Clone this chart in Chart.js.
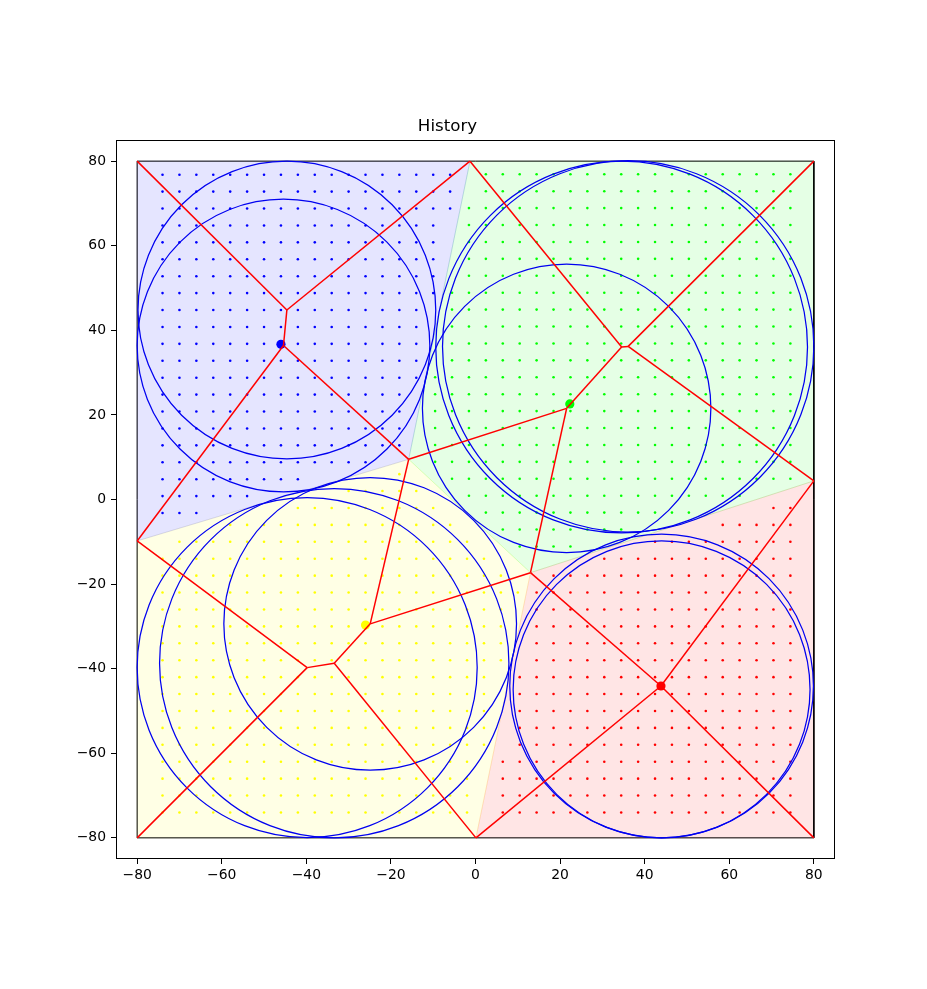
<!DOCTYPE html>
<html>
<head>
<meta charset="utf-8">
<title>History</title>
<script src="https://cdn.jsdelivr.net/npm/chart.js@4.4.1/dist/chart.umd.min.js"></script>
<style>
  html, body { margin: 0; padding: 0; background: #fff; }
  canvas { display: block; }
</style>
</head>
<body>
<canvas id="historyChart" width="927" height="989"></canvas>
<script>
const axisMin = -85;
const axisMax = 85;
const xTicks = [-80, -60, -40, -20, 0, 20, 40, 60, 80];
const yTicks = [-80, -60, -40, -20, 0, 20, 40, 60, 80];

// outer corners and points where the cell borders meet
const pTopLeft = [-80, 80];
const pTop = [-1.3, 80];
const pTopRight = [80, 80];
const pRight = [80, 4.4];
const pBottomRight = [80, -80];
const pBottom = [0.1, -80];
const pBottomLeft = [-80, -80];
const pLeft = [-80, -9.8];
const q1 = [-15.8, 9.5];
const q2 = [13.0, -17.3];

// inner vertices of the red skeleton
const j1 = [-44.6, 44.8];
const vBlue = [-45.4, 36.4];
const j2a = [34.55, 36.05];
const j2b = [36.1, 36.2];
const vGreen = [21.55, 21.55];
const vA = [-39.8, -39.75];
const vB = [-33.4, -38.7];
const vYellow = [-24.9, -29.4];
const vRed = [43.85, -44.1];

const blueCell = [pTopLeft, pTop, q1, pLeft];
const greenCell = [pTop, pTopRight, pRight, q2, q1];
const yellowCell = [pLeft, q1, q2, pBottom, pBottomLeft];
const redCell = [q2, pRight, pBottomRight, pBottom];
const boundary = [pTopLeft, pTopRight, pBottomRight, pBottomLeft];

const skeletonSegments = [
  [pTopLeft, j1], [j1, pTop], [j1, vBlue], [vBlue, pLeft], [vBlue, q1],
  [pTop, j2a], [j2a, j2b], [j2b, pTopRight], [j2b, pRight], [j2a, vGreen], [vGreen, q1], [vGreen, q2],
  [pLeft, vA], [vA, pBottomLeft], [vA, vB], [vB, pBottom], [vB, vYellow], [vYellow, q1], [vYellow, q2],
  [q2, vRed], [vRed, pRight], [vRed, pBottomRight], [vRed, pBottom],
];

const circleCenters = [j1, vBlue, j2a, j2b, vGreen, vA, vB, vYellow, [44.0, -44.1], [44.0, -44.9]];
const circleRadii = [35.2, 34.6, 43.95, 43.9, 34.1, 40.2, 41.3, 34.6, 35.9, 35.1];

const sitePoints = [[-46.0, 36.7], [22.3, 22.6], [-26.0, -29.7], [43.85, -44.1]];
const siteColors = ['#0000ff', '#00ff00', '#ffff00', '#ff0000'];

// sample dots, one row each: [y, first x, last x], spaced 4 apart
const dotStep = 4;
const blueDotRows = [
  [76.8, -74, -6], [72.8, -74, -6], [68.8, -74, -6], [64.8, -74, -10], [60.8, -74, -10],
  [56.8, -74, -10], [52.8, -74, -10], [48.8, -74, -10], [44.8, -74, -14], [40.8, -74, -14],
  [36.8, -74, -14], [32.8, -74, -14], [28.8, -74, -14], [24.8, -74, -18], [20.8, -74, -18],
  [16.8, -74, -18], [12.8, -74, -18], [8.8, -74, -26], [4.8, -74, -42], [0.8, -74, -54],
  [-3.2, -74, -66],
];
const greenDotRows = [
  [76.9, 2.45, 74.45], [72.9, 2.45, 74.45], [68.9, -1.55, 74.45], [64.9, -1.55, 74.45],
  [60.9, -1.55, 74.45], [56.9, -1.55, 74.45], [52.9, -1.55, 74.45], [48.9, -5.55, 74.45],
  [44.9, -5.55, 74.45], [40.9, -5.55, 74.45], [36.9, -5.55, 74.45], [32.9, -5.55, 74.45],
  [28.9, -9.55, 74.45], [24.9, -9.55, 74.45], [20.9, -9.55, 74.45], [16.9, -9.55, 74.45],
  [12.9, -9.55, 74.45], [8.9, -9.55, 74.45], [4.9, -5.55, 74.45], [0.9, -1.55, 62.45],
  [-3.1, 2.45, 50.45], [-7.1, 6.45, 34.45], [-11.1, 10.45, 22.45],
];
const yellowDotRows = [
  [6, -18, -18], [2, -30, -14], [-2, -42, -10], [-6, -58, -6], [-10, -70, -2],
  [-14, -74, 2], [-18, -74, 6], [-22, -74, 10], [-26, -74, 6], [-30, -74, 6],
  [-34, -74, 6], [-38, -74, 6], [-42, -74, 2], [-46, -74, 2], [-50, -74, 2],
  [-54, -74, 2], [-58, -74, 2], [-62, -74, -2], [-66, -74, -2], [-70, -74, -2],
  [-74, -74, -2],
];
const redDotRows = [
  [-2, 70.45, 74.45], [-6, 58.45, 74.45], [-10, 42.45, 74.45], [-14, 30.45, 74.45],
  [-18, 18.45, 74.45], [-22, 14.45, 74.45], [-26, 14.45, 74.45], [-30, 14.45, 74.45],
  [-34, 14.45, 74.45], [-38, 14.45, 74.45], [-42, 10.45, 74.45], [-46, 10.45, 74.45],
  [-50, 10.45, 74.45], [-54, 10.45, 74.45], [-58, 10.45, 74.45], [-62, 6.45, 74.45],
  [-66, 6.45, 74.45], [-70, 6.45, 74.45], [-74, 6.45, 74.45],
];

const fontFamily = '"DejaVu Sans", "Liberation Sans", sans-serif';

function toXY(list) {
  return list.map(([x, y]) => ({ x, y }));
}

function closed(list) {
  return toXY(list.concat([list[0]]));
}

function expandRows(rows) {
  const points = [];
  rows.forEach(([y, first, last]) => {
    for (let x = first; x <= last + 0.01; x += dotStep) points.push({ x, y });
  });
  return points;
}

function unitsToPixels(chart, r) {
  const s = chart.scales.x;
  return Math.abs(s.getPixelForValue(r) - s.getPixelForValue(0));
}

function formatTick(value) {
  return value < 0 ? '\u2212' + Math.abs(value) : String(value);
}

function cellDataset(cell, rgb) {
  return {
    type: 'line',
    data: closed(cell),
    fill: 'shape',
    backgroundColor: `rgba(${rgb},0.1)`,
    borderColor: `rgba(${rgb},0.12)`,
    borderWidth: 1,
    pointRadius: 0,
    tension: 0,
    order: 10,
  };
}

function dotDataset(rows, color) {
  return {
    data: expandRows(rows),
    pointRadius: 1.3,
    pointBorderWidth: 0,
    pointBackgroundColor: color,
    order: 8,
  };
}

const datasets = [
  cellDataset(blueCell, '0,0,255'),
  cellDataset(greenCell, '0,255,0'),
  cellDataset(yellowCell, '255,255,0'),
  cellDataset(redCell, '255,0,0'),
  {
    type: 'line',
    data: closed(boundary),
    borderColor: '#000',
    borderWidth: 1,
    pointRadius: 0,
    fill: false,
    order: 9,
  },
  dotDataset(blueDotRows, '#0000ff'),
  dotDataset(greenDotRows, '#00ff00'),
  dotDataset(yellowDotRows, '#ffff00'),
  dotDataset(redDotRows, '#ff0000'),
  {
    data: toXY(circleCenters),
    pointRadius: (ctx) => (ctx.dataIndex == null ? 0 : unitsToPixels(ctx.chart, circleRadii[ctx.dataIndex])),
    pointBackgroundColor: 'rgba(0,0,0,0)',
    pointBorderColor: '#0000f0',
    pointBorderWidth: 1.25,
    order: 7,
  },
  {
    data: toXY(sitePoints),
    pointRadius: 4.6,
    pointBorderWidth: 0,
    pointBackgroundColor: siteColors,
    order: 6,
  },
];

skeletonSegments.forEach((seg) => {
  datasets.push({
    type: 'line',
    data: toXY(seg),
    borderColor: '#ff0000',
    borderWidth: 1.5,
    pointRadius: 0,
    fill: false,
    order: 5,
  });
});

const framePlugin = {
  id: 'frame',
  afterDraw(chart) {
    const { ctx, chartArea } = chart;
    ctx.save();
    ctx.strokeStyle = '#000';
    ctx.lineWidth = 1;
    ctx.strokeRect(chartArea.left + 0.5, chartArea.top + 0.5, chartArea.width - 1, chartArea.height - 1);
    ctx.restore();
  },
};

function axisOptions(ticksList, isX) {
  return {
    type: 'linear',
    min: axisMin,
    max: axisMax,
    afterBuildTicks: (scale) => {
      scale.ticks = ticksList.map((value) => ({ value }));
    },
    afterFit: (scale) => {
      if (isX) scale.height = 40;
      else scale.width = 56;
    },
    border: { display: false },
    grid: {
      display: true,
      drawOnChartArea: false,
      drawTicks: true,
      tickLength: 5,
      tickColor: '#000',
      tickWidth: 1,
    },
    ticks: {
      color: '#000',
      padding: isX ? 3 : 5,
      maxRotation: 0,
      autoSkip: false,
      font: { family: fontFamily, size: 13.9 },
      callback: (value) => formatTick(value),
    },
  };
}

new Chart(document.getElementById('historyChart'), {
  type: 'scatter',
  data: { datasets },
  options: {
    responsive: false,
    animation: false,
    events: [],
    layout: { padding: { top: 105, left: 60, right: 92, bottom: 90 } },
    plugins: {
      legend: { display: false },
      tooltip: { enabled: false },
      title: {
        display: true,
        text: 'History',
        color: '#000',
        font: { family: fontFamily, size: 16.67, weight: 'normal', lineHeight: 1.2 },
        padding: { top: 12, bottom: 3 },
      },
    },
    scales: {
      x: axisOptions(xTicks, true),
      y: axisOptions(yTicks, false),
    },
  },
  plugins: [framePlugin],
});
</script>
</body>
</html>
